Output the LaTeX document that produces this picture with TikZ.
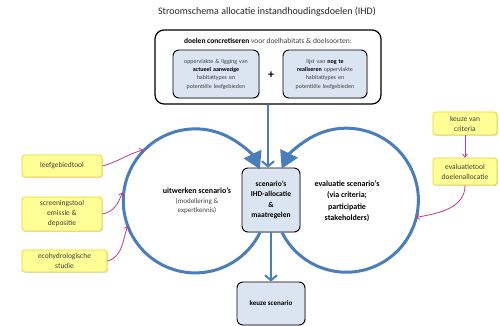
\documentclass[tikz,border=0pt]{standalone}
\usepackage{fontspec}
\setmainfont{Carlito}
\usetikzlibrary{arrows.meta,calc,shadows}
\definecolor{ihdblue}{RGB}{74,126,187}
\definecolor{boxblue}{RGB}{219,229,241}
\definecolor{toolyellow}{RGB}{255,255,150}
\definecolor{toolrim}{RGB}{235,215,40}
\definecolor{linkpink}{RGB}{192,57,139}
\definecolor{txtgray}{RGB}{64,64,64}

\begin{document}
\begin{tikzpicture}[x=1pt, y=1pt,
	bluebox/.style={draw=black, line width=0.9pt, fill=boxblue, rounded corners=6pt, align=center, inner sep=1pt,
		drop shadow={opacity=0.25, shadow xshift=1pt, shadow yshift=-1pt}},
	toolbox/.style={draw=toolrim, line width=0.8pt, fill=toolyellow, rounded corners=3pt, align=center, text=txtgray,
		font=\fontsize{7.5}{10}\selectfont, inner sep=1pt,
		drop shadow={opacity=0.25, shadow xshift=1pt, shadow yshift=-1pt}},
	cyclearc/.style={draw=ihdblue, line width=3pt, -{Triangle[length=17pt, width=19pt]}},
	flowarrow/.style={draw=ihdblue, line width=2pt, -{Straight Barb[length=5pt, width=12pt]}},
	pinkarrow/.style={draw=linkpink, line width=0.8pt, -{Straight Barb[length=3pt, width=5pt]}}]
	\useasboundingbox (0,0) rectangle (499,326);

	\node[font=\fontsize{10}{12}\selectfont, text=black!85] (title) at (267,314) {Stroomschema allocatie instandhoudingsdoelen (IHD)};

	% doelen concretiseren
	\node[draw=black, line width=1.2pt, rounded corners=9pt, minimum width=226pt, minimum height=74pt] (concreet) at (268,259) {};
	\node[font=\fontsize{7.5}{9}\selectfont, text=txtgray] (kop) at (268,285) {\textbf{\color{black}doelen concretiseren} voor doelhabitats \& doelsoorten:};
	\node[bluebox, minimum width=86pt, minimum height=48pt, text width=82pt, font=\fontsize{6}{8.3}\selectfont, text=txtgray] (aanwezig) at (216,252)
		{oppervlakte \& ligging van\\ \textbf{\color{black}actueel aanwezige}\\ habitattypes en\\ potentiële leefgebieden};
	\node[font=\fontsize{12}{12}\selectfont\bfseries] (plus) at (271,251) {+};
	\node[bluebox, minimum width=84pt, minimum height=48pt, text width=80pt, font=\fontsize{6}{8.3}\selectfont, text=txtgray] (realiseren) at (325,252)
		{lijst van \textbf{\color{black}nog te}\\ \textbf{\color{black}realiseren} oppervlakte\\ habitattypes en\\ potentiële leefgebieden};

	% cyclus
	\node[bluebox, minimum width=58pt, minimum height=64pt, font=\fontsize{7.5}{10.5}\selectfont\bfseries] (ihd) at (271,126)
		{scenario’s\\ IHD-allocatie\\ \&\\ maatregelen};
	\draw[cyclearc] ($(ihd.south)+(-11,0)$) arc[start angle=-26, end angle=-334, radius=72];
	\draw[cyclearc] ($(ihd.south)+(11,0)$) arc[start angle=206.6, end angle=514, radius=72];
	\coordinate (links) at (195,126);
	\coordinate (rechts) at (346,126);
	\node[align=center, font=\fontsize{8}{9.5}\selectfont] (uitwerken) at (197,125)
		{\textbf{uitwerken scenario’s}\\ {\color{txtgray}\fontsize{7}{9}\selectfont(modellering \&}\\ {\color{txtgray}\fontsize{7}{9}\selectfont expertkennis)}};
	\node[align=center, font=\fontsize{8}{11.5}\selectfont\bfseries] (evaluatie) at (347,125)
		{evaluatie scenario’s\\ (via criteria;\\ participatie\\ stakeholders)};

	\node[bluebox, minimum width=68pt, minimum height=43pt, font=\fontsize{7}{9}\selectfont\bfseries] (keuze) at (271,22.5) {keuze scenario};

	\draw[flowarrow] (concreet.south) -- (concreet.south |- ihd.north);
	\draw[flowarrow] (ihd.south) -- (keuze.north);

	% instrumenten
	\node[toolbox, minimum width=80pt, minimum height=22pt] (leefgebied) at (62,160) {leefgebiedtool};
	\node[toolbox, minimum width=80pt, minimum height=34pt] (screening) at (62,112) {screeningstool\\ emissie \&\\ depositie};
	\node[toolbox, minimum width=85pt, minimum height=22pt] (eco) at (64.5,65) {ecohydrologische\\ studie};
	\node[toolbox, minimum width=64pt, minimum height=23pt] (criteria) at (465,202.5) {keuze van\\ criteria};
	\node[toolbox, minimum width=64pt, minimum height=27pt] (evaltool) at (465,154.5) {evaluatietool\\ doelenallocatie};

	\coordinate (l1) at ($(links)+(136:72)$);
	\coordinate (l2) at ($(links)+(174:73)$);
	\coordinate (l3) at ($(links)+(201:72)$);
	\coordinate (r1) at ($(rechts)+(-14:72)$);
	\draw[pinkarrow] (leefgebied.east) to[out=15, in=195] (l1);
	\draw[pinkarrow] (screening.east) to[out=10, in=250] (l2);
	\draw[pinkarrow] (eco.east) to[out=15, in=250] (l3);
	\draw[pinkarrow] (criteria) -- (evaltool);
	\draw[pinkarrow] (evaltool.south) to[out=270, in=10] (r1);
\end{tikzpicture}
\end{document}
